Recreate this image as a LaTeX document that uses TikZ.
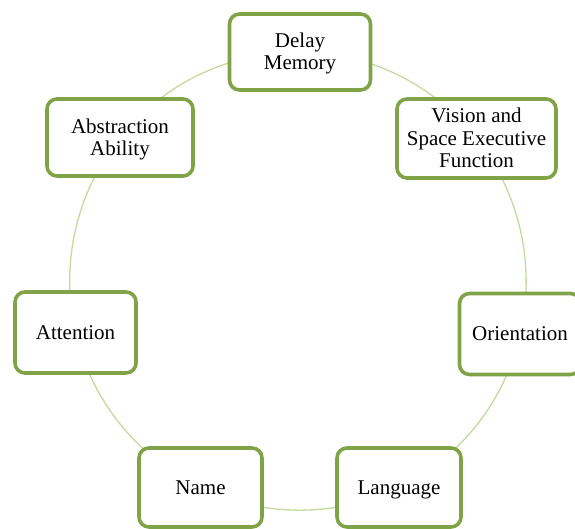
\documentclass[tikz,border=0pt]{standalone}
\usepackage{fontspec}
\setmainfont{Liberation Serif}
\usetikzlibrary{backgrounds}
\definecolor{boxgreen}{RGB}{128,163,72}
\definecolor{ringgreen}{RGB}{196,218,158}
\newcommand\itemtext[1]{\raisebox{-2.2pt}[\height][\depth]{\begin{tabular}{@{}c@{}}#1\end{tabular}}}
\tikzset{
  x=1pt, y=1pt,
  itembox/.style={draw=boxgreen, line width=3.6pt, rounded corners=10pt, fill=white,
    align=center, inner sep=0pt, font=\fontsize{21}{22.2}\selectfont},
  ring/.style={draw=ringgreen, line width=1.3pt, bend right=25.7, looseness=0.9}
}
\begin{document}
\begin{tikzpicture}
\useasboundingbox (0,0) rectangle (575,-528);
\node[itembox, minimum width=141, minimum height=76] (delay) at (300,-52) {\itemtext{Delay\\Memory}};
\node[itembox, minimum width=159, minimum height=79] (vision) at (476.5,-138.5) {\itemtext{Vision and\\Space Executive\\Function}};
\node[itembox, minimum width=121, minimum height=81] (orient) at (520,-334) {\itemtext{Orientation}};
\node[itembox, minimum width=124, minimum height=79] (lang) at (399,-487.5) {\itemtext{Language}};
\node[itembox, minimum width=123, minimum height=79] (name) at (200.5,-487.5) {\itemtext{Name}};
\node[itembox, minimum width=121, minimum height=81] (attn) at (75.5,-332.5) {\itemtext{Attention}};
\node[itembox, minimum width=146, minimum height=77] (abstr) at (120,-137.5) {\itemtext{Abstraction\\Ability}};
\begin{scope}[on background layer]
\draw[ring] (delay.center) to (abstr.center);
\draw[ring] (abstr.center) to (attn.center);
\draw[ring] (attn.center) to (name.center);
\draw[ring] (name.center) to (lang.center);
\draw[ring] (lang.center) to (orient.center);
\draw[ring] (orient.center) to (vision.center);
\draw[ring] (vision.center) to (delay.center);
\end{scope}
\end{tikzpicture}
\end{document}
